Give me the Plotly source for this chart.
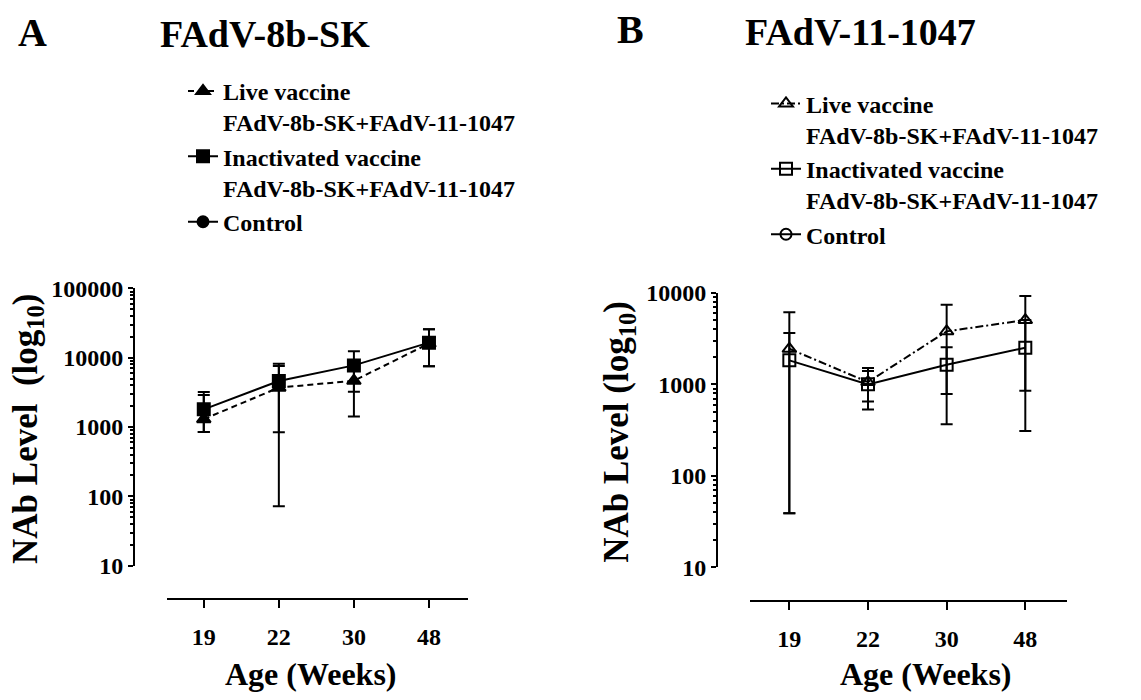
import math
import plotly.graph_objects as go

# ---------------- data ----------------
weeks = ["19", "22", "30", "48"]

# Panel A: FAdV-8b-SK
a_live_mean = [1300, 3700, 4650, 16000]
a_live_upper = [2900, 7600, 7800, 25800]
a_live_lower = [850, 840, 1420, 7500]
a_inact_mean = [1800, 4600, 7750, 16500]
a_inact_upper = [3200, 8200, 12400, 25800]
a_inact_lower = [850, 72, 3240, 7500]

# Panel B: FAdV-11-1047
b_live_mean = [2450, 1060, 3800, 5050]
b_live_upper = [6150, 1510, 7400, 9250]
b_live_lower = [39, 530, 367, 850]
b_inact_mean = [1830, 1000, 1640, 2520]
b_inact_upper = [3650, 1400, 2540, 5050]
b_inact_lower = [39, 650, 785, 310]

a_ticks = [10, 100, 1000, 10000, 100000]
b_ticks = [10, 100, 1000, 10000]

live_name = "Live vaccine<br>FAdV-8b-SK+FAdV-11-1047"
inact_name = "Inactivated vaccine<br>FAdV-8b-SK+FAdV-11-1047"
control_name = "Control"

# ---------------- layout helpers ----------------
W, H = 1141, 700
FONT = "Liberation Serif"


def fx(p):
    return p / W


def fy(p):
    return 1 - p / H


fig = go.Figure()


def add_series(mean, upper, lower, name, xa, ya, legend, symbol, dash):
    plus = [u - m for u, m in zip(upper, mean)]
    minus = [m - l for m, l in zip(mean, lower)]
    fig.add_trace(go.Scatter(
        x=weeks, y=mean, name=name, xaxis=xa, yaxis=ya, legend=legend,
        mode="lines+markers",
        line=dict(color="black", width=2, dash=dash),
        marker=dict(symbol=symbol, size=12, color="black",
                    line=dict(color="black", width=2)),
        error_y=dict(type="data", symmetric=False, array=plus, arrayminus=minus,
                     color="black", thickness=2, width=6),
    ))


def add_control(xa, ya, legend, symbol):
    fig.add_trace(go.Scatter(
        x=[None], y=[None], name=control_name, xaxis=xa, yaxis=ya, legend=legend,
        mode="lines+markers",
        line=dict(color="black", width=2),
        marker=dict(symbol=symbol, size=11, color="black",
                    line=dict(color="black", width=2)),
    ))


add_series(a_live_mean, a_live_upper, a_live_lower, live_name, "x", "y", "legend",
           "triangle-up", "6px,4px")
add_series(a_inact_mean, a_inact_upper, a_inact_lower, inact_name, "x", "y", "legend",
           "square", "solid")
add_control("x", "y", "legend", "circle")

add_series(b_live_mean, b_live_upper, b_live_lower, live_name, "x2", "y2", "legend2",
           "triangle-up-open", "8px,3px,2px,3px")
add_series(b_inact_mean, b_inact_upper, b_inact_lower, inact_name, "x2", "y2", "legend2",
           "square-open", "solid")
add_control("x2", "y2", "legend2", "circle-open")

tickfont = dict(family=FONT, size=24, color="black", weight="bold")


def minor_vals(ticks):
    return [k * t for t in ticks[:-1] for k in range(2, 10)]


def xaxis_cfg(x0, x1, ypos, rng):
    return dict(
        domain=[fx(x0), fx(x1)], anchor="free", position=fy(ypos),
        type="category", range=rng, showline=True, linecolor="black", linewidth=2,
        ticks="outside", ticklen=8, tickwidth=2, tickcolor="black",
        tickfont=tickfont, ticklabelstandoff=8,
        showgrid=False, zeroline=False, fixedrange=True,
    )


def yaxis_cfg(ytop, ybot, xpos, ticks):
    return dict(
        domain=[fy(ybot), fy(ytop)], anchor="free", position=fx(xpos),
        type="log", range=[math.log10(ticks[0]), math.log10(ticks[-1])],
        tickmode="array", tickvals=ticks, ticktext=[str(t) for t in ticks],
        showline=True, linecolor="black", linewidth=2,
        ticks="outside", ticklen=5, tickwidth=2, tickcolor="black",
        tickfont=tickfont,
        minor=dict(tickmode="array", tickvals=minor_vals(ticks), ticks="outside",
                   ticklen=3, tickwidth=1.5, tickcolor="black", showgrid=False),
        showgrid=False, zeroline=False, fixedrange=True,
    )


legend_font = dict(family=FONT, size=24, color="black", weight="bold")

fig.update_layout(
    width=W, height=H,
    margin=dict(l=0, r=0, t=0, b=0),
    paper_bgcolor="white", plot_bgcolor="white",
    showlegend=True,
    xaxis=xaxis_cfg(167, 468, 609, [-0.49, 3.52]),
    yaxis=yaxis_cfg(286, 574, 134, a_ticks),
    xaxis2=xaxis_cfg(750, 1067, 611, [-0.5, 3.53]),
    yaxis2=yaxis_cfg(290.7, 575.7, 717, b_ticks),
    legend=dict(x=fx(183), y=fy(58), xanchor="left", yanchor="top",
                font=legend_font, bgcolor="rgba(0,0,0,0)", valign="top",
                itemclick=False, itemdoubleclick=False),
    legend2=dict(x=fx(766), y=fy(71), xanchor="left", yanchor="top",
                 font=legend_font, bgcolor="rgba(0,0,0,0)", valign="top",
                 itemclick=False, itemdoubleclick=False),
)

title_font = dict(family=FONT, size=38, color="black", weight="bold")
axis_title_font = dict(family=FONT, size=35, color="black", weight="bold")
x_title_font = dict(family=FONT, size=32, color="black", weight="bold")

annots = [
    dict(text="A", x=fx(32), y=fy(20), font=dict(family=FONT, size=40, color="black", weight="bold")),
    dict(text="FAdV-8b-SK", x=fx(265), y=fy(22), font=title_font),
    dict(text="B", x=fx(630), y=fy(17), font=dict(family=FONT, size=40, color="black", weight="bold")),
    dict(text="FAdV-11-1047", x=fx(860), y=fy(20), font=title_font),
    dict(text="NAb Level  (log<sub>10</sub>)", x=fx(28), y=fy(432), textangle=-90,
         font=axis_title_font),
    dict(text="NAb Level (log<sub>10</sub>)", x=fx(619), y=fy(435), textangle=-90,
         font=axis_title_font),
    dict(text="Age (Weeks)", x=fx(311), y=fy(686), font=x_title_font),
    dict(text="Age (Weeks)", x=fx(926), y=fy(686), font=x_title_font),
]
for a in annots:
    fig.add_annotation(xref="paper", yref="paper", xanchor="center", yanchor="middle",
                       showarrow=False, **a)

fig.write_html("out.html")
